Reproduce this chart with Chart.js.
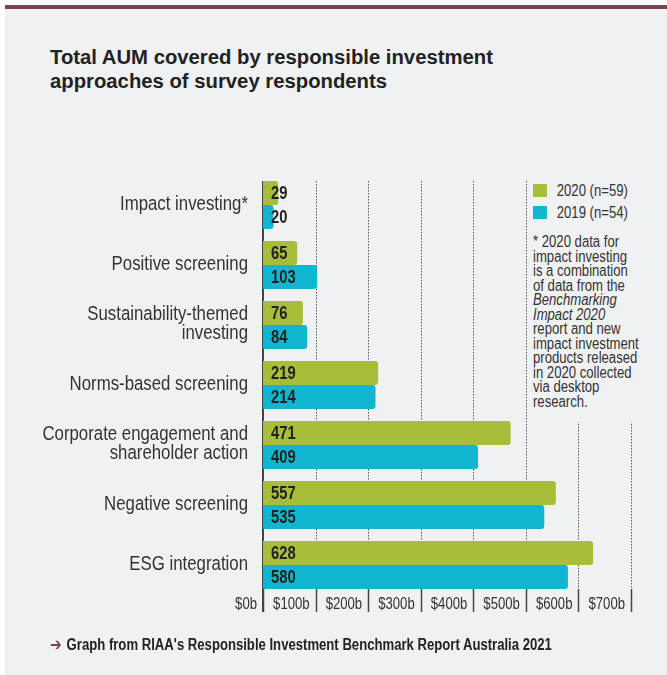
<!DOCTYPE html>
<html>
<head>
<meta charset="utf-8">
<script src="https://cdn.jsdelivr.net/npm/chart.js@4.4.1/dist/chart.umd.min.js"></script>
<style>
  html, body { margin: 0; padding: 0; background: #fff; }
  body { width: 667px; height: 675px; position: relative; overflow: hidden; }
  #panel { position: absolute; left: 5px; top: 5px; width: 662px; height: 670px; background: #f0f1f3; }
  #topline { position: absolute; left: 5px; top: 5px; width: 662px; height: 4px; background: #7d4150; }
  #title {
    position: absolute; left: 50px; top: 45px; margin: 0;
    font: bold 20.3px "Liberation Sans", Arial, sans-serif; line-height: 24px; color: #222;
  }
  #aum-chart { position: absolute; left: 0; top: 0; }
  #side-note {
    position: absolute; left: 529px; top: 176px; width: 134px; height: 246px;
    background: #f0f1f3; z-index: 2; overflow: hidden;
  }
  .narrow {
    position: absolute; left: 4px; transform: scaleX(0.82); transform-origin: 0 0;
    font: 16px "Liberation Sans", Arial, sans-serif; color: #333; white-space: nowrap;
  }
  .legend-row { position: absolute; left: 0; height: 14px; line-height: 14px; }
  .legend-row span { display: inline-block; width: 17px; height: 13px; vertical-align: top; margin-right: 12px; }
  #note { top: 59px; margin: 0; line-height: 14.5px; }
  #source {
    position: absolute; left: 50px; top: 634px; margin: 0; white-space: nowrap;
    transform: scaleX(0.82); transform-origin: 0 0;
    font: bold 16px "Liberation Sans", Arial, sans-serif; color: #222;
  }
  #source .arrow { color: #7d4150; font-family: "DejaVu Sans", sans-serif; font-size: 17px; margin-right: 6px; }
</style>
</head>
<body>
<div id="panel"></div>
<div id="topline"></div>
<h1 id="title">Total AUM covered by responsible investment<br>approaches of survey respondents</h1>
<canvas id="aum-chart" width="667" height="675"></canvas>
<div id="side-note">
  <div id="legend" class="narrow" style="top:0"></div>
  <p id="note" class="narrow">* 2020 data for<br>impact investing<br>is a combination<br>of data from the<br><i>Benchmarking<br>Impact 2020</i><br>report and new<br>impact investment<br>products released<br>in 2020 collected<br>via desktop<br>research.</p>
</div>
<p id="source"><span class="arrow">➔</span>Graph from RIAA's Responsible Investment Benchmark Report Australia 2021</p>

<script>
const categories = [
  'Impact investing*',
  'Positive screening',
  ['Sustainability-themed', 'investing'],
  'Norms-based screening',
  ['Corporate engagement and', 'shareholder action'],
  'Negative screening',
  'ESG integration'
];
const aum2020 = [29, 65, 76, 219, 471, 557, 628];
const aum2019 = [20, 103, 84, 214, 409, 535, 580];
const seriesLabels = ['2020 (n=59)', '2019 (n=54)'];
const seriesColors = ['#a8be3a', '#10b6d0'];
const axisMax = 700;
const axisStep = 100;

const baseFont = '"Liberation Sans", Arial, sans-serif';
const squeeze = 0.82; // the original uses a condensed face

function narrowText(ctx, text, x, y, align) {
  ctx.save();
  ctx.translate(x, y);
  ctx.scale(squeeze, 1);
  ctx.textAlign = align;
  ctx.fillText(text, 0, 0);
  ctx.restore();
}

// dotted grid, solid tick marks, the left axis line and the axis labels
const axisMarks = {
  id: 'axisMarks',
  beforeDatasetsDraw(chart) {
    const { ctx, chartArea: { left, top, bottom }, scales: { x, y } } = chart;
    const y0 = top + 6;
    const y1 = bottom - 6;
    const tickEnd = bottom + 17;

    ctx.save();
    x.ticks.forEach(t => {
      const px = Math.round(x.getPixelForValue(t.value)) + 0.5;
      if (t.value > 0) {
        ctx.strokeStyle = '#555';
        ctx.lineWidth = 1;
        ctx.setLineDash([1.5, 1.5]);
        ctx.beginPath();
        ctx.moveTo(px, y0);
        ctx.lineTo(px, y1);
        ctx.stroke();
      }
      ctx.setLineDash([]);
      ctx.strokeStyle = '#444';
      ctx.lineWidth = 1.5;
      ctx.beginPath();
      ctx.moveTo(px, y1);
      ctx.lineTo(px, tickEnd);
      ctx.stroke();
    });

    ctx.strokeStyle = '#444';
    ctx.lineWidth = 2;
    ctx.beginPath();
    ctx.moveTo(left, y0);
    ctx.lineTo(left, tickEnd);
    ctx.stroke();

    // x tick labels sit just left of their tick mark
    ctx.fillStyle = '#333';
    ctx.textBaseline = 'middle';
    ctx.font = '16px ' + baseFont;
    x.ticks.forEach(t => {
      narrowText(ctx, '$' + t.value + 'b', x.getPixelForValue(t.value) - 6, bottom + 10, 'right');
    });

    // category labels
    ctx.font = '20.5px ' + baseFont;
    chart.data.labels.forEach((label, i) => {
      const lines = [].concat(label);
      const py = y.getPixelForValue(i) - 1;
      lines.forEach((line, k) => {
        narrowText(ctx, line, left - 15, py + (k - (lines.length - 1) / 2) * 18.5, 'right');
      });
    });
    ctx.restore();
  }
};

// values written inside the start of every bar
const barValues = {
  id: 'barValues',
  afterDatasetsDraw(chart) {
    const { ctx } = chart;
    ctx.save();
    ctx.font = 'bold 18px ' + baseFont;
    ctx.fillStyle = '#222';
    ctx.textBaseline = 'middle';
    chart.data.datasets.forEach((ds, i) => {
      chart.getDatasetMeta(i).data.forEach((bar, j) => {
        narrowText(ctx, String(ds.data[j]), bar.base + 8, bar.y + 1, 'left');
      });
    });
    ctx.restore();
  }
};

const chart = new Chart(document.getElementById('aum-chart'), {
  type: 'bar',
  data: {
    labels: categories,
    datasets: [
      { label: seriesLabels[0], data: aum2020, backgroundColor: seriesColors[0] },
      { label: seriesLabels[1], data: aum2019, backgroundColor: seriesColors[1] }
    ]
  },
  options: {
    indexAxis: 'y',
    responsive: false,
    animation: false,
    devicePixelRatio: 1,
    categoryPercentage: 0.8,
    barPercentage: 1,
    borderRadius: 3,
    layout: { padding: { top: 175, right: 36, bottom: 58, left: 0 } },
    plugins: {
      legend: { display: false },
      tooltip: { enabled: false }
    },
    scales: {
      y: {
        grid: { display: false },
        border: { display: false },
        ticks: { display: false },
        afterFit: s => { s.width = 263; }
      },
      x: {
        min: 0,
        max: axisMax,
        grid: { display: false },
        border: { display: false },
        ticks: { display: false, stepSize: axisStep },
        afterFit: s => { s.height = 22; }
      }
    }
  },
  plugins: [axisMarks, barValues]
});

// legend built from the datasets
const legendBox = document.getElementById('legend');
chart.data.datasets.forEach((ds, i) => {
  const row = document.createElement('div');
  row.className = 'legend-row';
  row.style.top = (8 + i * 22) + 'px';
  row.innerHTML = '<span style="background:' + ds.backgroundColor + '"></span>' + ds.label;
  legendBox.appendChild(row);
});
</script>
</body>
</html>
